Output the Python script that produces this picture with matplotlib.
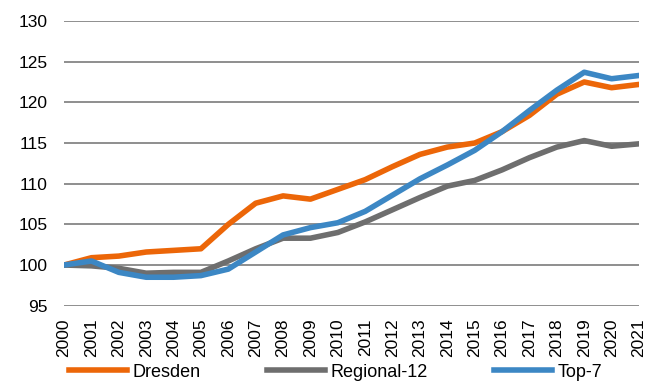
import numpy as np
import matplotlib.pyplot as plt

plt.rcParams["font.family"] = ["Liberation Sans", "DejaVu Sans"]

# Jahre und Indexwerte (2000 = 100)
jahre = list(range(2000, 2022))
dresden = [100.0, 100.9, 101.1, 101.6, 101.8, 102.0, 105.0, 107.6, 108.5, 108.1, 109.3,
           110.5, 112.1, 113.6, 114.5, 115.0, 116.4, 118.4, 121.0, 122.5, 121.8, 122.2]
regional_12 = [100.0, 99.9, 99.6, 99.0, 99.1, 99.1, 100.5, 102.0, 103.3, 103.3, 104.0,
               105.3, 106.8, 108.3, 109.7, 110.4, 111.7, 113.2, 114.5, 115.3, 114.6, 114.9]
top_7 = [100.0, 100.5, 99.1, 98.5, 98.5, 98.7, 99.5, 101.6, 103.7, 104.6, 105.2,
         106.6, 108.6, 110.6, 112.3, 114.1, 116.4, 119.0, 121.5, 123.7, 122.9, 123.3]

fig = plt.figure(figsize=(6.67, 3.83), dpi=100)
ax = fig.add_axes([0.096, 0.2018, 0.862, 0.7434])

lw = 4.0
ax.plot(jahre, dresden, color="#EC6608", lw=lw, label="Dresden")
ax.plot(jahre, regional_12, color="#6E6E6E", lw=lw, label="Regional-12")
ax.plot(jahre, top_7, color="#3C87C4", lw=lw, label="Top-7")

ax.set_xlim(2000, 2021)
ax.set_ylim(95, 130)
ax.set_yticks(range(95, 131, 5))
ax.set_xticks(jahre)
ax.set_xticklabels([str(j) for j in jahre], rotation=90)
ax.tick_params(length=0, labelsize=12.5)
ax.tick_params(axis="x", pad=9)
ax.tick_params(axis="y", pad=12)
ax.grid(axis="y", color="#868686", lw=1.3)
ax.grid(axis="x", visible=False)
ax.set_axisbelow(True)
for s in ax.spines.values():
    s.set_visible(False)

fig.legend(loc="center", bbox_to_anchor=(0.503, 0.028), ncol=3, frameon=False,
           fontsize=13, handlelength=3.2, handletextpad=0.3, columnspacing=3.7,
           borderpad=0, borderaxespad=0)

fig.savefig("out.png", dpi=100)
